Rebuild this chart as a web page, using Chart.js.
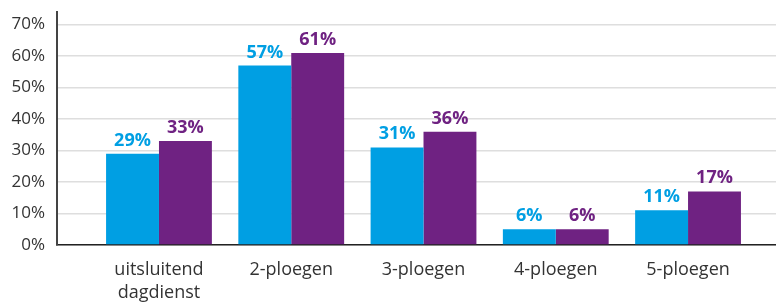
<!DOCTYPE html>
<html>
<head>
<meta charset="utf-8">
<script src="https://cdn.jsdelivr.net/npm/chart.js@4/dist/chart.umd.min.js"></script>
<style>
html,body{margin:0;padding:0;background:#fff;}
#wrap{width:776px;height:305px;position:relative;}
</style>
</head>
<body>
<div id="wrap"><canvas id="c"></canvas></div>
<script>
// categories + series
const categories=[["uitsluitend","dagdienst"],"2-ploegen","3-ploegen","4-ploegen","5-ploegen"];
const blueVals=[29,57,31,5,11];
const purpleVals=[33,61,36,5,17];
const blueLabels=["29%","57%","31%","6%","11%"];
const purpleLabels=["33%","61%","36%","6%","17%"];
const yTicks=[0,10,20,30,40,50,60,70];

const BLUE="#009fe3", PURPLE="#6f2282";
const FONT="'Open Sans', sans-serif";

// value labels above bars
const valueLabels={
  id:"valueLabels",
  afterDatasetsDraw(chart){
    const ctx=chart.ctx;
    ctx.save();
    ctx.font="bold 18px "+FONT;
    ctx.textAlign="center";
    ctx.textBaseline="alphabetic";
    chart.data.datasets.forEach((ds,i)=>{
      const meta=chart.getDatasetMeta(i);
      ctx.fillStyle=ds.backgroundColor;
      meta.data.forEach((bar,j)=>{
        ctx.fillText(ds.valueLabels[j],bar.x,bar.y-8);
      });
    });
    ctx.restore();
  }
};

new Chart(document.getElementById("c"),{
  type:"bar",
  data:{
    datasets:[
      {data:blueVals.map((v,i)=>({x:i,y:v})),backgroundColor:BLUE,valueLabels:blueLabels},
      {data:purpleVals.map((v,i)=>({x:i,y:v})),backgroundColor:PURPLE,valueLabels:purpleLabels}
    ]
  },
  options:{
    responsive:true,
    maintainAspectRatio:false,
    animation:false,
    layout:{padding:{top:12,right:0,left:0,bottom:0}},
    barPercentage:1,
    categoryPercentage:0.8,
    plugins:{legend:{display:false},tooltip:{enabled:false}},
    scales:{
      x:{
        type:"linear",
        offset:false,
        min:-0.771,max:4.665,
        afterBuildTicks:s=>{s.ticks=categories.map((c,i)=>({value:i}));},
        afterFit:s=>{s.height=60;},
        grid:{display:false,drawTicks:false},
        border:{color:"#222",width:1.5},
        ticks:{
          padding:13,
          color:"#333",
          font:{family:FONT,size:18,lineHeight:1.3},
          callback:v=>categories[v]
        }
      },
      y:{
        min:0,max:74,
        afterBuildTicks:s=>{s.ticks=yTicks.map(v=>({value:v}));},
        afterFit:s=>{s.width=57;s.paddingTop=0;},
        grid:{color:"#dedede",lineWidth:1.5,drawTicks:false},
        border:{color:"#444",width:2},
        ticks:{
          padding:12,
          color:"#333",
          font:{family:FONT,size:17},
          callback:v=>v+"%"
        }
      }
    }
  },
  plugins:[valueLabels]
});
</script>
</body>
</html>
